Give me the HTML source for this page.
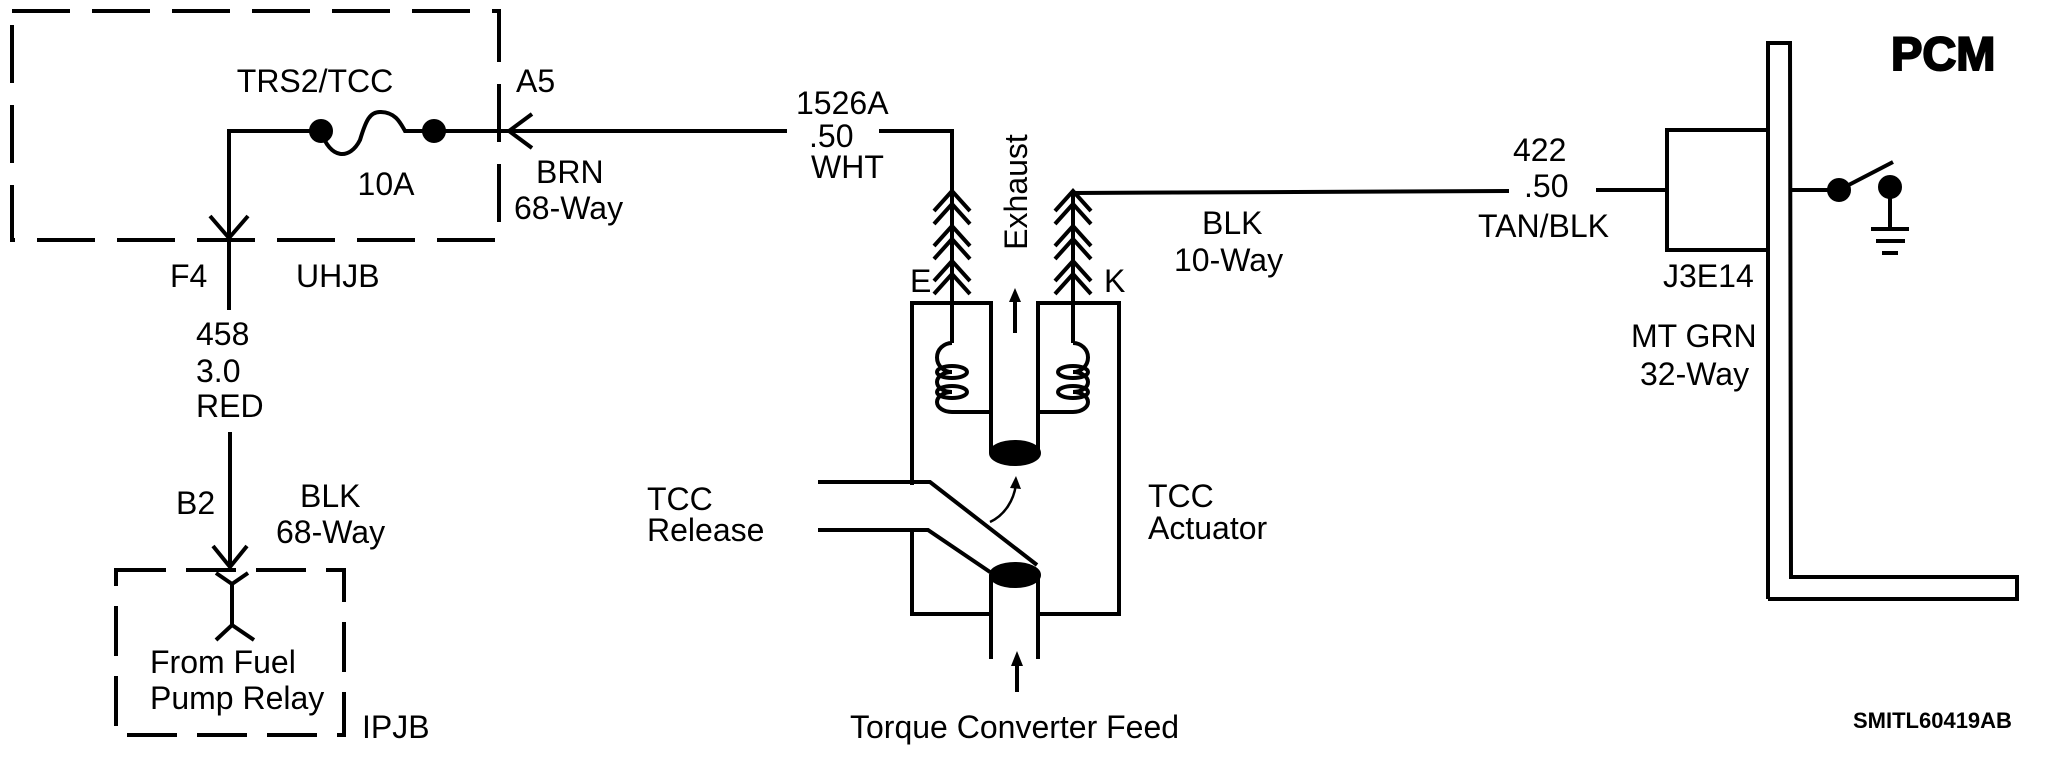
<!DOCTYPE html>
<html><head><meta charset="utf-8"><style>
html,body{margin:0;padding:0;background:#fff;}
svg{display:block;}
text{font-family:"Liberation Sans",Arial,sans-serif;font-size:32px;fill:#000;}
</style></head><body>
<svg width="2048" height="757" viewBox="0 0 2048 757" xmlns="http://www.w3.org/2000/svg">
<g fill="none" stroke="#000" stroke-width="4" stroke-linecap="butt">
<rect x="12" y="11" width="487" height="229" stroke-dasharray="58,22"/>
<rect x="116" y="570" width="228" height="165" stroke-dasharray="50,20"/>

<polyline points="229,310 229,131 321,131"/>
<path d="M321,131 C330,160 350,160 360,140 C366,120 370,112 380,112 C395,112 400,122 405,131 L434,131"/>
<circle cx="321" cy="131" r="10" fill="#000"/>
<circle cx="434" cy="131" r="10" fill="#000"/>
<line x1="434" y1="131" x2="787" y2="131"/>
<polyline points="532,114 509,131 532,148"/>
<polyline points="210,216 229,238 248,216"/>

<line x1="230" y1="432" x2="230" y2="567"/>
<polyline points="213,546 230,567 247,546"/>
<polyline points="216,573 232,584 248,573"/>
<line x1="232" y1="584" x2="232" y2="625"/>
<polyline points="216,640 232,625 254,640"/>

<polyline points="879,131 952,131 952,343"/>
<g>
<polyline points="934,211 952,191 970,211"/>
<polyline points="934,224 952,204 970,224"/>
<polyline points="934,246 952,226 970,246"/>
<polyline points="934,259 952,239 970,259"/>
<polyline points="934,281 952,261 970,281"/>
<polyline points="934,294 952,274 970,294"/>
</g>
<polyline points="1509,191 1073,193 1073,343"/>
<g>
<polyline points="1055,211 1073,191 1091,211"/>
<polyline points="1055,224 1073,204 1091,224"/>
<polyline points="1055,246 1073,226 1091,246"/>
<polyline points="1055,259 1073,239 1091,259"/>
<polyline points="1055,281 1073,261 1091,281"/>
<polyline points="1055,294 1073,274 1091,294"/>
</g>

<polyline points="912,485 912,303 991,303 991,453"/>
<polyline points="1038,453 1038,303 1119,303 1119,614 1038,614"/>
<polyline points="912,530 912,614 991,614"/>
<path d="M952,343 A15,14.5 0 0 0 952,372 A15,10 0 0 0 952,392 A15,10 0 0 0 952,412 L991,412"/>
<ellipse cx="952" cy="372" rx="15" ry="6"/>
<ellipse cx="952" cy="392" rx="15" ry="6"/>
<path d="M1073,343 A15,14.5 0 0 1 1073,372 A15,10 0 0 1 1073,392 A15,10 0 0 1 1073,412 L1038,412"/>
<ellipse cx="1073" cy="372" rx="15" ry="6"/>
<ellipse cx="1073" cy="392" rx="15" ry="6"/>
<ellipse cx="1015" cy="453" rx="24" ry="11" fill="#000"/>
<line x1="1015" y1="333" x2="1015" y2="300"/>
<polyline points="818,482 930,482 1037,565"/>
<polyline points="818,530 928,530 990,572"/>
<ellipse cx="1015" cy="575" rx="24" ry="11" fill="#000"/>
<line x1="991" y1="575" x2="991" y2="659"/>
<line x1="1038" y1="575" x2="1038" y2="659"/>
<path d="M990,522 C1005,515 1014,500 1016,484" stroke-width="2.5"/>
<line x1="1017" y1="692" x2="1017" y2="665"/>

<line x1="1596" y1="190" x2="1667" y2="190"/>
<polyline points="1768,130 1667,130 1667,250 1768,250"/>
<polyline points="1768,599 1768,43 1790,43 1791,577 2017,577 2017,599 1768,599"/>
<line x1="1791" y1="190" x2="1839" y2="190"/>
<line x1="1839" y1="190" x2="1893" y2="162"/>
<circle cx="1839" cy="190" r="10" fill="#000"/>
<circle cx="1890" cy="187" r="10" fill="#000"/>
<line x1="1890" y1="187" x2="1890" y2="228"/>
<line x1="1871" y1="229" x2="1909" y2="229"/>
<line x1="1876" y1="241" x2="1905" y2="241"/>
<line x1="1882" y1="253" x2="1898" y2="253"/>
</g>
<polygon points="1015,288 1009,302 1021,302" fill="#000"/>
<polygon points="1017,651 1011,666 1023,666" fill="#000"/>
<polygon points="1016,476 1010,488 1021,489" fill="#000"/>

<text x="315" y="92" text-anchor="middle">TRS2/TCC</text>
<text x="516" y="92">A5</text>
<text x="386" y="195" text-anchor="middle">10A</text>
<text x="536" y="183">BRN</text>
<text x="514" y="219">68-Way</text>
<text x="170" y="287">F4</text>
<text x="296" y="287">UHJB</text>
<text x="196" y="345">458</text>
<text x="196" y="382">3.0</text>
<text x="196" y="417">RED</text>
<text x="176" y="514">B2</text>
<text x="300" y="507">BLK</text>
<text x="276" y="543">68-Way</text>
<text x="150" y="673">From Fuel</text>
<text x="150" y="709">Pump Relay</text>
<text x="362" y="738">IPJB</text>
<text x="647" y="510">TCC</text>
<text x="647" y="541">Release</text>
<text x="796" y="114">1526A</text>
<text x="809" y="147">.50</text>
<text x="811" y="178">WHT</text>
<text x="910" y="292">E</text>
<text x="1104" y="292">K</text>
<text transform="translate(1027,192) rotate(-90)" text-anchor="middle">Exhaust</text>
<text x="1202" y="234">BLK</text>
<text x="1174" y="271">10-Way</text>
<text x="1148" y="507">TCC</text>
<text x="1148" y="539">Actuator</text>
<text x="850" y="738">Torque Converter Feed</text>
<text x="1513" y="161">422</text>
<text x="1524" y="197">.50</text>
<text x="1478" y="237">TAN/BLK</text>
<text x="1663" y="287">J3E14</text>
<text x="1631" y="347">MT GRN</text>
<text x="1640" y="385">32-Way</text>
<text x="1891" y="70" style="font-size:47px;font-weight:bold;stroke:#000;stroke-width:2">PCM</text>
<text x="1853" y="728" style="font-size:22px;font-weight:bold">SMITL60419AB</text>
</svg>
</body></html>
